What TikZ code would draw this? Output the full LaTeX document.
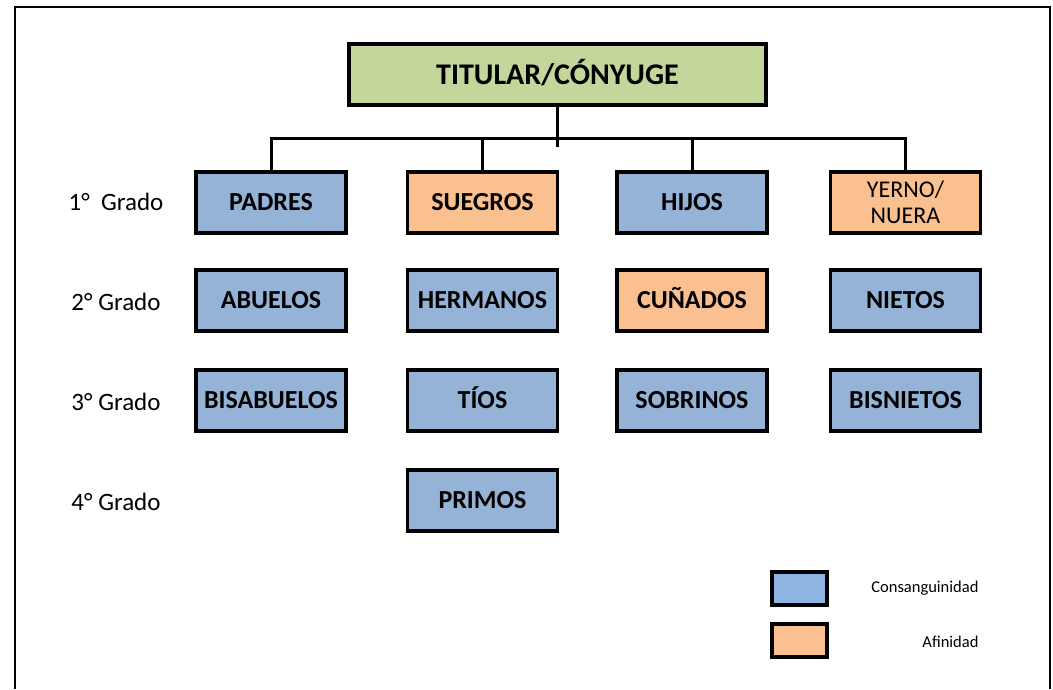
\documentclass[tikz,border=0pt]{standalone}
\usepackage{fontspec}
\setmainfont{Carlito}
\usetikzlibrary{positioning}
\definecolor{consang}{HTML}{95B3D7}
\definecolor{afin}{HTML}{FAC090}
\definecolor{verdetit}{HTML}{C3D69B}
\definecolor{legazul}{HTML}{8DB4E2}

\begin{document}
\begin{tikzpicture}[x=1pt,y=-1pt,
  cajabase/.style={draw,line width=3.5pt,minimum width=150pt,minimum height=61pt,inner sep=0pt,align=center},
  caja/.style={cajabase,text height=18pt,text depth=1.5pt,font=\fontsize{26}{28}\selectfont\bfseries},
  rama/.style={line width=3pt},
  grado/.style={font=\fontsize{25}{27}\selectfont},
  leyenda/.style={draw,line width=3.5pt,minimum width=55pt,minimum height=33pt,inner sep=0pt}]
\useasboundingbox (0,0) rectangle (1053,689);
\draw[line width=2pt] (15,689) -- (15,7) -- (1050,7) -- (1050,689);

\node[caja,fill=verdetit,minimum width=417pt,text height=22pt,text depth=2.5pt,font=\fontsize{30}{32}\selectfont\bfseries] (tit) at (557.5,74.5) {TITULAR/CÓNYUGE};

% grados
\foreach \g [count=\i,evaluate=\i as \y using 102+100*\i] in {1°\ \ Grado,2° Grado,3° Grado,4° Grado}
  \node[grado] (grado\i) at (116,\y) {\g};

% cajas
\foreach \nom/\txt/\col/\x/\y in {padres/PADRES/consang/271/202.5, suegros/SUEGROS/afin/482.5/202.5, hijos/HIJOS/consang/692/202.5,
  abuelos/ABUELOS/consang/271/300.5, hermanos/HERMANOS/consang/482.5/300.5, cunados/CUÑADOS/afin/692/300.5, nietos/NIETOS/consang/905.5/300.5,
  bisabuelos/BISABUELOS/consang/271/400.5, tios/TÍOS/consang/482.5/400.5, sobrinos/SOBRINOS/consang/692/400.5, bisnietos/BISNIETOS/consang/905.5/400.5,
  primos/PRIMOS/consang/482.5/500.5}
  \node[caja,fill=\col] (\nom) at (\x,\y) {\txt};
\node[cajabase,fill=afin,font=\fontsize{24}{26}\selectfont] (yerno) at (905.5,202.5) {YERNO/\\NUERA};

% ramas
\draw[rama] (tit.south) -- ++(0,40);
\draw[rama] (padres.north) -- ++(0,-32) -| (yerno.north);
\draw[rama] (suegros.north) -- ++(0,-32);
\draw[rama] (hijos.north) -- ++(0,-32);

% leyenda
\node[leyenda,fill=legazul] (legc) at (799.5,588.5) {};
\node[leyenda,fill=afin] (lega) at (799.5,640.5) {};
\node[anchor=east,font=\fontsize{16.5}{18}\selectfont] (txtc) at (982,588.5) {Consanguinidad};
\node[anchor=east,font=\fontsize{16.5}{18}\selectfont] (txta) at (982,642) {Afinidad};
\end{tikzpicture}
\end{document}
